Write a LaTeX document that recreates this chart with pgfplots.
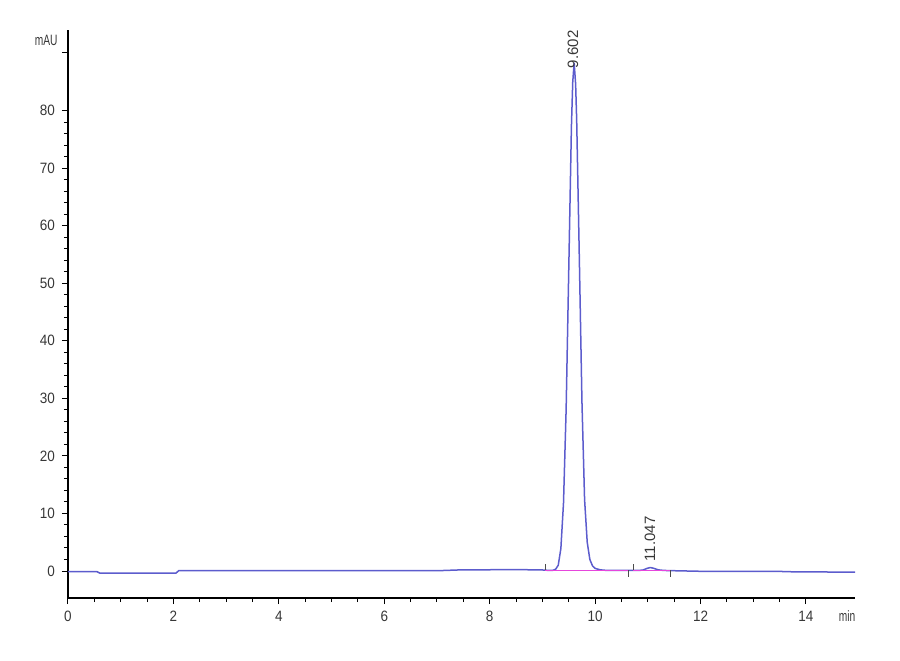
\documentclass[border=0pt]{standalone}
\usepackage{fontspec}
\setmainfont{Liberation Sans}
\newfontfamily\ticksfont{Liberation Sans}[FakeStretch=0.9]
\newfontfamily\unitfont{Liberation Sans}[FakeStretch=0.68]
\usepackage{pgfplots}
\pgfplotsset{compat=1.18}
\definecolor{trace}{RGB}{92,92,205}
\definecolor{intbase}{RGB}{230,70,220}
\definecolor{labgray}{RGB}{55,55,55}

\begin{document}
\begin{tikzpicture}
% frame fixes the page to 900x660 px (0.5pt per px)
\path (-34pt,-31pt) rectangle (416pt,299pt);
\begin{axis}[
    scale only axis,
    width=393.5pt, height=284pt,
    xmin=0, xmax=14.93,
    ymin=-4.69, ymax=94,
    axis x line=bottom, axis y line=left,
    axis line style={-, line width=0.7pt, black},
    xtick={0,2,...,14}, minor x tick num=3,
    ytick={0,10,...,80}, minor y tick num=4,
    extra y ticks={90}, extra y tick labels={},
    tick align=outside,
    major tick length=3pt, minor tick length=2pt,
    tick style={black, line width=0.5pt},
    /pgf/number format/assume math mode=true,
    ticklabel style={font=\ticksfont\fontsize{7.5}{9}\selectfont, text=labgray},
    clip=false,
]
% detector signal
\addplot[trace, line width=0.75pt] coordinates {
    (0,-0.10) (0.55,-0.12) (0.60,-0.35) (2.05,-0.35) (2.10,0.05)
    (4,0.05) (6,0.05) (7.0,0.05) (7.4,0.18) (8.5,0.25) (9.0,0.18)
    (9.10,0.12) (9.20,0.13) (9.25,0.30) (9.30,1.0) (9.35,3.9)
    (9.40,11.8) (9.45,28.1) (9.50,52.5) (9.55,77.1) (9.575,84.9)
    (9.602,88.3) (9.63,84.6) (9.65,78.4) (9.70,54.5) (9.75,29.4)
    (9.80,12.4) (9.85,5.0) (9.90,2.0) (9.95,0.9) (10.0,0.45)
    (10.1,0.20) (10.2,0.12) (10.4,0.10) (10.6,0.10) (10.8,0.10)
    (10.9,0.15) (11.0,0.50) (11.047,0.60) (11.1,0.50) (11.2,0.20)
    (11.3,0.10) (11.5,0.05) (12,-0.05) (13.5,-0.05) (13.6,-0.12)
    (14,-0.15) (14.93,-0.20)
};
% integration baselines
\addplot[intbase, line width=0.7pt] coordinates {(9.05,0.10) (10.63,0.10)};
\addplot[intbase, line width=0.7pt] coordinates {(10.72,0.10) (11.42,0.10)};
% peak start / end marks
\addplot[black!70, line width=0.4pt] coordinates {(9.05,0.1) (9.05,1.2)};
\addplot[black!70, line width=0.4pt] coordinates {(10.63,0.1) (10.63,-1.0)};
\addplot[black!70, line width=0.4pt] coordinates {(10.72,0.1) (10.72,1.2)};
\addplot[black!70, line width=0.4pt] coordinates {(11.42,0.1) (11.42,-1.0)};
% retention time labels
\node[rotate=90, anchor=west, inner sep=0pt, font=\fontsize{7.5}{9}\selectfont, text=labgray]
    at (axis cs:9.58,87.3) {9.602};
\node[rotate=90, anchor=west, inner sep=0pt, font=\fontsize{7.5}{9}\selectfont, text=labgray]
    at (axis cs:11.04,1.6) {11.047};
% units
\node[anchor=east, inner sep=0pt, font=\unitfont\fontsize{7.5}{9}\selectfont, text=labgray]
    at ([xshift=-5pt]rel axis cs:0,0.982) {mAU};
\node[anchor=north, inner sep=0pt, font=\unitfont\fontsize{7.5}{9}\selectfont, text=labgray]
    at ([yshift=-6pt]axis cs:14.78,-4.69) {min};
\end{axis}
\end{tikzpicture}
\end{document}
